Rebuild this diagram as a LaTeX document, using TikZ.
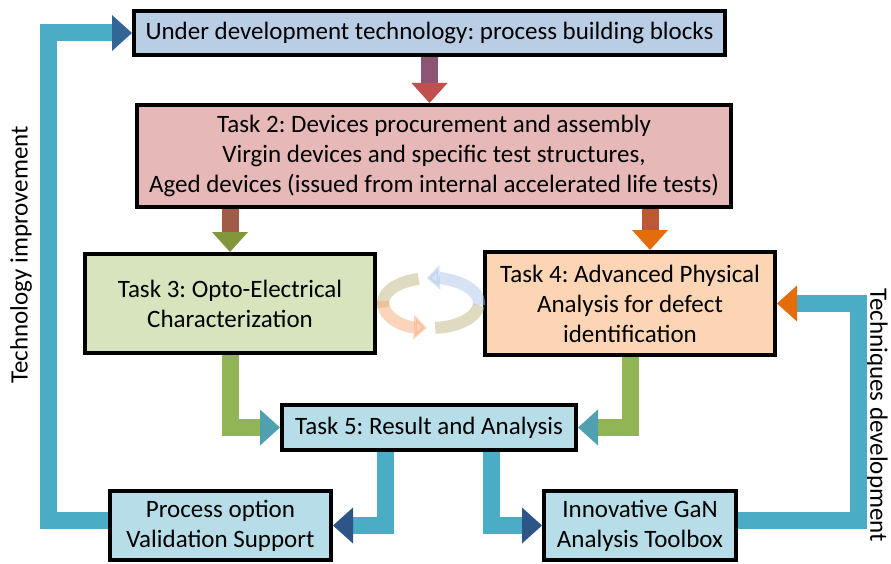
\documentclass[tikz,border=0pt]{standalone}
\usepackage{fontspec}
\setmainfont{Carlito}
\usetikzlibrary{arrows.meta}

\definecolor{techblue}{RGB}{185,205,229}
\definecolor{taskred}{RGB}{230,185,184}
\definecolor{taskgreen}{RGB}{215,228,189}
\definecolor{taskorange}{RGB}{252,213,181}
\definecolor{taskcyan}{RGB}{183,222,232}
\definecolor{arrcyan}{RGB}{75,172,198}
\definecolor{arrnavy}{RGB}{45,85,135}
\definecolor{arrgreen}{RGB}{145,180,85}
\definecolor{arrteal}{RGB}{80,160,175}
\definecolor{arrorange}{RGB}{228,108,10}
\definecolor{arrplum}{RGB}{140,85,115}
\definecolor{arrred}{RGB}{192,80,77}
\definecolor{arrbrown}{RGB}{160,92,70}
\definecolor{arrolive}{RGB}{130,150,60}
\definecolor{arrrust}{RGB}{190,88,52}

\tikzset{
  block/.style={draw=black, line width=4pt, inner sep=0pt, align=center,
    font=\fontsize{25}{30}\selectfont},
  sidelabel/.style={inner sep=0pt, font=\fontsize{25}{30}\selectfont},
  flow/.style 2 args={line width=17pt, draw=#1,
    -{Triangle[width=36pt,length=20pt,line width=0pt,color=#2]}},
  cyc/.style={line width=12pt, opacity=.5}
}

\begin{document}
\frenchspacing
\begin{tikzpicture}[x=1pt,y=-1pt]
      \useasboundingbox (0,0) rectangle (891,564);

      %%%%%%%%%%%%%%%%%%%%%%%%%%%%%%%%%%%%%%%%%%%%%%%%%%%%%%%%%%%%%%%%%%%%%%%%%%%
      %%%%  Blocks
      \node[block, fill=techblue, minimum width=591, minimum height=44] (techno) at (429.5,33)
        {Under development technology: process building blocks};
      \node[block, fill=taskred, minimum width=594, minimum height=102] (task2) at (434,156)
        {Task 2: Devices procurement and assembly\\
         Virgin devices and specific test structures,\\
         Aged devices (issued from internal accelerated life tests)};
      \node[block, fill=taskgreen, minimum width=290, minimum height=99] (task3) at (230,303.5)
        {Task 3: Opto-Electrical\\Characterization};
      \node[block, fill=taskorange, minimum width=290, minimum height=103] (task4) at (630,303.5)
        {Task 4: Advanced Physical\\Analysis for defect\\identification};
      \node[block, fill=taskcyan, minimum width=294, minimum height=45] (task5) at (429,427.5)
        {Task 5: Result and Analysis};
      \node[block, fill=taskcyan, minimum width=221, minimum height=69] (valid) at (220.5,525.5)
        {Process option\\Validation Support};
      \node[block, fill=taskcyan, minimum width=192, minimum height=69] (toolbox) at (640,525.5)
        {Innovative GaN\\Analysis Toolbox};

      \node[sidelabel, rotate=90] (techimp) at (21,255) {Technology improvement};
      \node[sidelabel, rotate=-90] (techdev) at (877,415) {Techniques development};

      %%%%%%%%%%%%%%%%%%%%%%%%%%%%%%%%%%%%%%%%%%%%%%%%%%%%%%%%%%%%%%%%%%%%%%%%%%%
      %%%%  Downward arrows
      \draw[flow={arrplum}{arrred}] (techno.south) -- (techno.south |- task2.north);
      \draw[flow={arrbrown}{arrolive}] (task2.south -| task3.north) -- (task3.north);
      \draw[flow={arrrust}{arrorange}] (task2.south -| task4.north east) ++(-127,0)
        coordinate (t4top) -- (t4top |- task4.north);

      %%%%%%%%%%%%%%%%%%%%%%%%%%%%%%%%%%%%%%%%%%%%%%%%%%%%%%%%%%%%%%%%%%%%%%%%%%%
      %%%%  Into and out of Task 5
      \draw[flow={arrgreen}{arrteal}] (task3.south) |- (task5.west);
      \draw[flow={arrgreen}{arrteal}] (task4.south) |- (task5.east);
      \draw[flow={arrcyan}{arrnavy}] ([xshift=-44]task5.south) |- (valid.east);
      \draw[flow={arrcyan}{arrnavy}] ([xshift=62]task5.south) |- (toolbox.west);

      %%%%%%%%%%%%%%%%%%%%%%%%%%%%%%%%%%%%%%%%%%%%%%%%%%%%%%%%%%%%%%%%%%%%%%%%%%%
      %%%%  Feedback loops
      \draw[flow={arrcyan}{arrnavy!80!arrcyan}] ([yshift=5]valid.west) -- ++(-60,0) |- (techno.west);
      \draw[flow={arrcyan}{arrorange}] ([yshift=5]toolbox.east) -- ++(120,0) |- (task4.east);

      %%%%%%%%%%%%%%%%%%%%%%%%%%%%%%%%%%%%%%%%%%%%%%%%%%%%%%%%%%%%%%%%%%%%%%%%%%%
      %%%%  Cycle between Task 3 and Task 4
      \coordinate (cycle) at (431,303);
      \draw[cyc, draw={rgb,255:red,190;green,183;blue,130}]
        ([shift={(190:48pt and 25pt)}]cycle) arc[start angle=190, end angle=105, x radius=48pt, y radius=25pt];
      \draw[cyc, draw={rgb,255:red,175;green,200;blue,235}, -{Triangle[width=24pt,length=13pt]}]
        ([shift={(-5:48pt and 25pt)}]cycle) arc[start angle=-5, end angle=95, x radius=48pt, y radius=25pt];
      \draw[cyc, draw={rgb,255:red,245;green,170;blue,120}, -{Triangle[width=24pt,length=13pt]}]
        ([shift={(175:48pt and 25pt)}]cycle) arc[start angle=175, end angle=265, x radius=48pt, y radius=25pt];
      \draw[cyc, draw={rgb,255:red,190;green,183;blue,130}]
        ([shift={(275:48pt and 25pt)}]cycle) arc[start angle=275, end angle=355, x radius=48pt, y radius=25pt];
    \end{tikzpicture}
\end{document}
